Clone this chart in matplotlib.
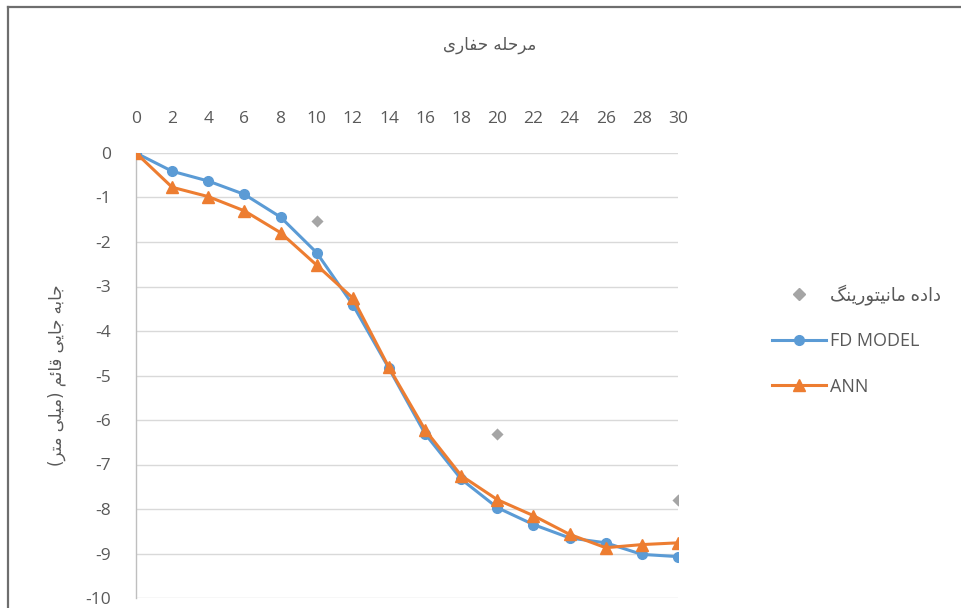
import matplotlib
matplotlib.use("Agg")
import matplotlib.pyplot as plt
from matplotlib.lines import Line2D

plt.rcParams['font.family'] = ['Open Sans', 'DejaVu Sans']

# ---- data ----
stages = [0, 2, 4, 6, 8, 10, 12, 14, 16, 18, 20, 22, 24, 26, 28, 30]
fd_model = [0, -0.41, -0.63, -0.93, -1.44, -2.24, -3.41, -4.84, -6.31, -7.33,
            -7.97, -8.35, -8.65, -8.76, -9.02, -9.07]
ann = [0, -0.77, -0.98, -1.30, -1.79, -2.52, -3.26, -4.82, -6.22, -7.25,
       -7.79, -8.15, -8.57, -8.87, -8.80, -8.76]
mon_x = [10, 20, 30]
mon_y = [-1.52, -6.31, -7.79]
x_ticks = list(range(0, 31, 2))
y_ticks = list(range(0, -11, -1))

title_txt = "مرحله حفاری"
ylabel_txt = "جابه جایی قائم (میلی متر)"
leg_mon = "داده مانیتورینگ"
leg_fd = "FD MODEL"
leg_ann = "ANN"

# ---- simple Arabic/Persian shaping for display ----
FORMS = {  # isolated, final, initial, medial
    'ا': ('\uFE8D', '\uFE8E', None, None),
    'د': ('\uFEA9', '\uFEAA', None, None),
    'ر': ('\uFEAD', '\uFEAE', None, None),
    'و': ('\uFEED', '\uFEEE', None, None),
    'ب': ('\uFE8F', '\uFE90', '\uFE91', '\uFE92'),
    'ت': ('\uFE95', '\uFE96', '\uFE97', '\uFE98'),
    'ج': ('\uFE9D', '\uFE9E', '\uFE9F', '\uFEA0'),
    'ح': ('\uFEA1', '\uFEA2', '\uFEA3', '\uFEA4'),
    'ف': ('\uFED1', '\uFED2', '\uFED3', '\uFED4'),
    'ق': ('\uFED5', '\uFED6', '\uFED7', '\uFED8'),
    'ل': ('\uFEDD', '\uFEDE', '\uFEDF', '\uFEE0'),
    'م': ('\uFEE1', '\uFEE2', '\uFEE3', '\uFEE4'),
    'ن': ('\uFEE5', '\uFEE6', '\uFEE7', '\uFEE8'),
    'ه': ('\uFEE9', '\uFEEA', '\uFEEB', '\uFEEC'),
    'ئ': ('\uFE89', '\uFE8A', '\uFE8B', '\uFE8C'),
    'ی': ('\uFBFC', '\uFBFD', '\uFBFE', '\uFBFF'),
    'گ': ('\uFB92', '\uFB93', '\uFB94', '\uFB95'),
}


def dual(c):
    return c in FORMS and FORMS[c][2] is not None


def shape(s):
    out = []
    for i, c in enumerate(s):
        if c not in FORMS:
            out.append(c)
            continue
        prev = s[i - 1] if i > 0 else ''
        nxt = s[i + 1] if i + 1 < len(s) else ''
        jp = dual(prev)
        jn = dual(c) and nxt in FORMS
        f = FORMS[c]
        if jp and jn:
            out.append(f[3])
        elif jp:
            out.append(f[1])
        elif jn:
            out.append(f[2])
        else:
            out.append(f[0])
    vis = ''.join(reversed(out))
    vis = vis.translate(str.maketrans({'(': ')', ')': '('}))
    return vis


# ---- figure ----
W, H = 961, 608
fig = plt.figure(figsize=(W / 100, H / 100), dpi=100)
ax = fig.add_axes([136 / W, 1 - 598 / H, (678 - 136) / W, (598 - 153) / H])

blue = '#5B9BD5'
orange = '#ED7D31'
gray = '#A5A5A5'
txt = '#595959'

ax.plot(stages, fd_model, color=blue, lw=2.2, marker='o', ms=7, zorder=3)
ax.plot(stages, ann, color=orange, lw=2.2, marker='^', ms=8, zorder=4)
ax.scatter(mon_x, mon_y, marker='D', s=38, color=gray, zorder=5, linewidths=0)

ax.set_xlim(0, 30)
ax.set_ylim(-10, 0)
ax.set_xticks(x_ticks)
ax.set_yticks(y_ticks)
ax.set_yticklabels([str(v) for v in y_ticks])
ax.xaxis.tick_top()
ax.tick_params(axis='x', length=0, pad=19, labelsize=12.5, labelcolor=txt)
ax.tick_params(axis='y', length=0, pad=18, labelsize=12.5, labelcolor=txt)
for lab in ax.get_yticklabels():
    lab.set_horizontalalignment('right')
ax.grid(axis='y', color='#D9D9D9', lw=1.0)
ax.set_axisbelow(True)
for sp in ['top', 'right', 'bottom']:
    ax.spines[sp].set_visible(False)
ax.spines['left'].set_color('#BFBFBF')
ax.spines['left'].set_linewidth(1.0)
ax.spines['left'].set_zorder(1)

# title and y label
fig.text(490 / W, 1 - 45 / H, shape(title_txt), ha='center', va='center',
         fontsize=12, color=txt, family='DejaVu Sans')
fig.text(57 / W, 1 - 375 / H, shape(ylabel_txt), ha='center', va='center',
         rotation=90, fontsize=12, color=txt, family='DejaVu Sans')

# legend (manual)
handles = [
    Line2D([], [], ls='none', marker='D', color=gray, ms=6),
    Line2D([], [], color=blue, lw=2.2, marker='o', ms=7),
    Line2D([], [], color=orange, lw=2.2, marker='^', ms=8),
]
labels = [shape(leg_mon), leg_fd, leg_ann]
leg = fig.legend(handles, labels, loc='center left',
                 bbox_to_anchor=(756 / W, 1 - 340 / H), frameon=False,
                 fontsize=13, labelcolor=txt, handlelength=3.0,
                 handletextpad=0.2, labelspacing=1.5)

# outer border (left and top)
fig.add_artist(Line2D([8 / W, 8 / W], [0, 1 - 7 / H], transform=fig.transFigure,
                      color='#6E6E6E', lw=1.6))
fig.add_artist(Line2D([8 / W, 1], [1 - 7 / H, 1 - 7 / H], transform=fig.transFigure,
                      color='#6E6E6E', lw=1.6))

fig.savefig('out.png', dpi=100)
